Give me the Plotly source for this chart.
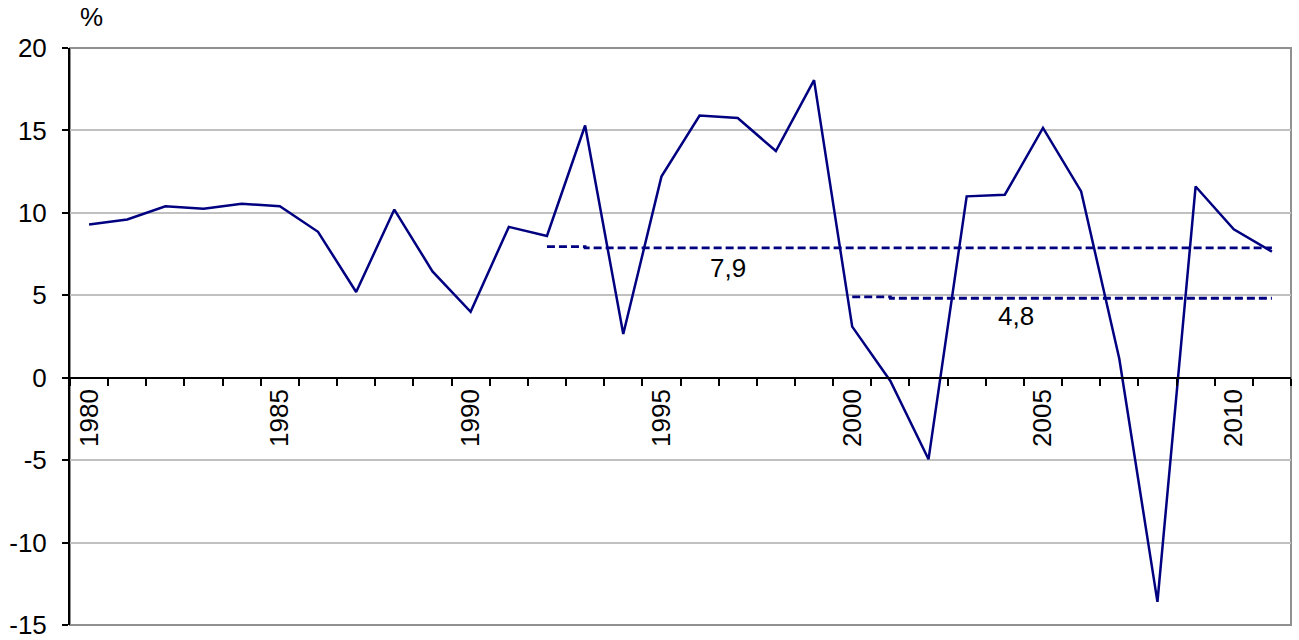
import plotly.graph_objects as go

years = list(range(1980, 2012))
growth = [9.3, 9.6, 10.4, 10.25, 10.55, 10.4, 8.85, 5.2, 10.2, 6.45, 4.0,
          9.15, 8.6, 15.3, 2.65, 12.2, 15.9, 15.75, 13.75, 18.05, 3.1,
          -0.2, -4.95, 11.0, 11.1, 15.15, 11.3, 1.15, -13.6, 11.6, 9.0, 7.65]

avg1_years = list(range(1992, 2012))
avg1_vals = [7.95] + [7.87] * 19
avg2_years = list(range(2000, 2012))
avg2_vals = [4.9] + [4.82] * 11

label_years = [1980, 1985, 1990, 1995, 2000, 2005, 2010]
y_ticks = [-15, -10, -5, 0, 5, 10, 15, 20]
y_labels = ["-15", "-10", "-5", "0", "5", "10", "15", "20"]
y_range = [-15, 20]

font = "Arial, Liberation Sans, sans-serif"
navy = "#000080"
fs = 26

fig = go.Figure()
fig.add_trace(go.Scatter(x=years, y=growth, mode="lines",
                         line=dict(color=navy, width=2.5), showlegend=False))
fig.add_trace(go.Scatter(x=avg1_years, y=avg1_vals, mode="lines",
                         line=dict(color=navy, width=2.8, dash="8px,4px", shape="hv"),
                         showlegend=False))
fig.add_trace(go.Scatter(x=avg2_years, y=avg2_vals, mode="lines",
                         line=dict(color=navy, width=2.8, dash="8px,4px", shape="hv"),
                         showlegend=False))

fig.add_annotation(x=1996.75, y=6.65, text="7,9", showarrow=False,
                   font=dict(family=font, size=fs, color="black"))
fig.add_annotation(x=2004.3, y=3.75, text="4,8", showarrow=False,
                   font=dict(family=font, size=fs, color="black"))
fig.add_annotation(x=0.018, y=1.0, xref="paper", yref="paper", yshift=31,
                   yanchor="middle", xanchor="center",
                   text="%", showarrow=False,
                   font=dict(family=font, size=fs, color="black"))

zero_pos = (0 - y_range[0]) / (y_range[1] - y_range[0])

fig.update_layout(
    width=1299, height=640,
    margin=dict(l=70, r=8, t=48, b=15),
    paper_bgcolor="white", plot_bgcolor="white",
    font=dict(family=font, size=fs, color="black"),
    xaxis=dict(range=[1979.5, 2011.5], anchor="free", position=zero_pos,
               automargin=False,
               tickvals=label_years, ticktext=[str(y) for y in label_years],
               tickangle=-90, ticks="", showgrid=False, zeroline=False,
               showline=True, linecolor="black", linewidth=2,
               tickfont=dict(family=font, size=fs),
               minor=dict(ticks="outside", tick0=1979.5, dtick=1, ticklen=7,
                          tickwidth=2, tickcolor="black", showgrid=False)),
    yaxis=dict(range=y_range, tickvals=y_ticks, ticktext=y_labels,
               automargin=False,
               ticks="outside", ticklen=6, ticklabelstandoff=10,
               ticklabeloverflow="allow",
               tickwidth=2, tickcolor="black", showline=True, linecolor="black",
               linewidth=2, showgrid=True, gridcolor="#c0c0c0", gridwidth=2,
               zeroline=False, tickfont=dict(family=font, size=fs)),
    shapes=[dict(type="rect", xref="paper", yref="paper", x0=0, x1=1, y0=0, y1=1,
                 line=dict(color="#909090", width=2), layer="below")],
)

fig.write_html("out.html")
